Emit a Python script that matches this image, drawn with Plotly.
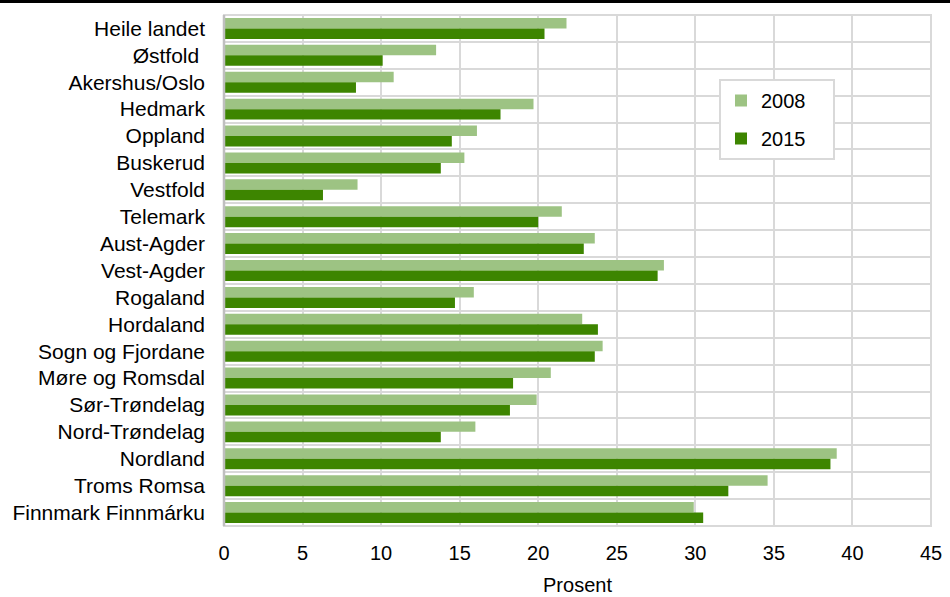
import plotly.graph_objects as go

categories = ["Heile landet", "Østfold ", "Akershus/Oslo", "Hedmark", "Oppland", "Buskerud",
              "Vestfold", "Telemark", "Aust-Agder", "Vest-Agder", "Rogaland", "Hordaland",
              "Sogn og Fjordane", "Møre og Romsdal", "Sør-Trøndelag", "Nord-Trøndelag",
              "Nordland", "Troms Romsa", "Finnmark Finnmárku"]
values_2008 = [21.8, 13.5, 10.8, 19.7, 16.1, 15.3, 8.5, 21.5, 23.6, 28.0, 15.9, 22.8,
               24.1, 20.8, 19.9, 16.0, 39.0, 34.6, 29.9]
values_2015 = [20.4, 10.1, 8.4, 17.6, 14.5, 13.8, 6.3, 20.0, 22.9, 27.6, 14.7, 23.8,
               23.6, 18.4, 18.2, 13.8, 38.6, 32.1, 30.5]
x_ticks = [0, 5, 10, 15, 20, 25, 30, 35, 40, 45]
series_names = ["2008", "2015"]

W, H = 950, 597
ML, MR, MT, MB = 224, 19, 15, 71
pos = list(range(len(categories)))
PAD = "\u00a0" * 4  # widen legend box on the right

fig = go.Figure()
fig.add_trace(go.Bar(y=pos, x=values_2008, orientation="h", name=series_names[0] + PAD,
                     marker=dict(color="#9DC383", line=dict(width=0)), legendgroup="a"))
fig.add_trace(go.Bar(y=pos, x=values_2015, orientation="h", name=series_names[1] + PAD,
                     marker=dict(color="#3D8500", line=dict(width=0)), legendgroup="b"))

FAM = "Liberation Sans, Arial, sans-serif"
font = dict(family=FAM, size=21, color="#000000")
tickfont = dict(family=FAM, size=20, color="#000000")
pw = W - ML - MR
ph = H - MT - MB
fig.update_layout(
    width=W, height=H,
    margin=dict(l=ML, r=MR, t=MT, b=MB, pad=0, autoexpand=False),
    paper_bgcolor="white", plot_bgcolor="white",
    barmode="group", bargap=0.22, bargroupgap=0,
    font=font,
    showlegend=True,
    legend=dict(x=(719 - ML) / pw, y=1 - (79 - MT) / ph,
                xanchor="left", yanchor="top",
                bgcolor="white", bordercolor="#D9D9D9", borderwidth=2,
                font=dict(family=FAM, size=20),
                tracegroupgap=9, itemwidth=30),
    xaxis=dict(range=[0, 45], tickvals=x_ticks, showgrid=True, gridcolor="#D9D9D9",
               gridwidth=2, zeroline=False, showline=False, ticks="", automargin=False,
               tickfont=tickfont, ticklabelstandoff=13,
               title=dict(text="Prosent", font=tickfont, standoff=14)),
    yaxis=dict(range=[len(categories) - 0.5, -0.5], tickvals=pos, ticktext=categories,
               showgrid=False, zeroline=False, ticks="", ticklabelstandoff=18,
               showline=False, tickfont=font, automargin=False,
               minor=dict(tick0=0.5, dtick=1, showgrid=True, gridcolor="#D9D9D9",
                          gridwidth=2, ticks="")),
)

# plot-area frame
fig.add_shape(type="rect", xref="paper", yref="paper", x0=0, x1=1, y0=0, y1=1,
              line=dict(color="#D9D9D9", width=2), layer="above")
fig.add_shape(type="line", xref="paper", yref="paper", x0=0, x1=0, y0=0, y1=1,
              line=dict(color="#BFBFBF", width=2.5), layer="above")
# top black rule of the page
fig.add_shape(type="line", xref="paper", yref="paper",
              x0=-ML / pw, x1=1 + MR / pw,
              y0=1 + (MT - 1.5) / ph, y1=1 + (MT - 1.5) / ph,
              line=dict(color="black", width=3))

fig.write_html("out.html", config={"displayModeBar": False},
               post_script="document.body.style.margin='0';")
